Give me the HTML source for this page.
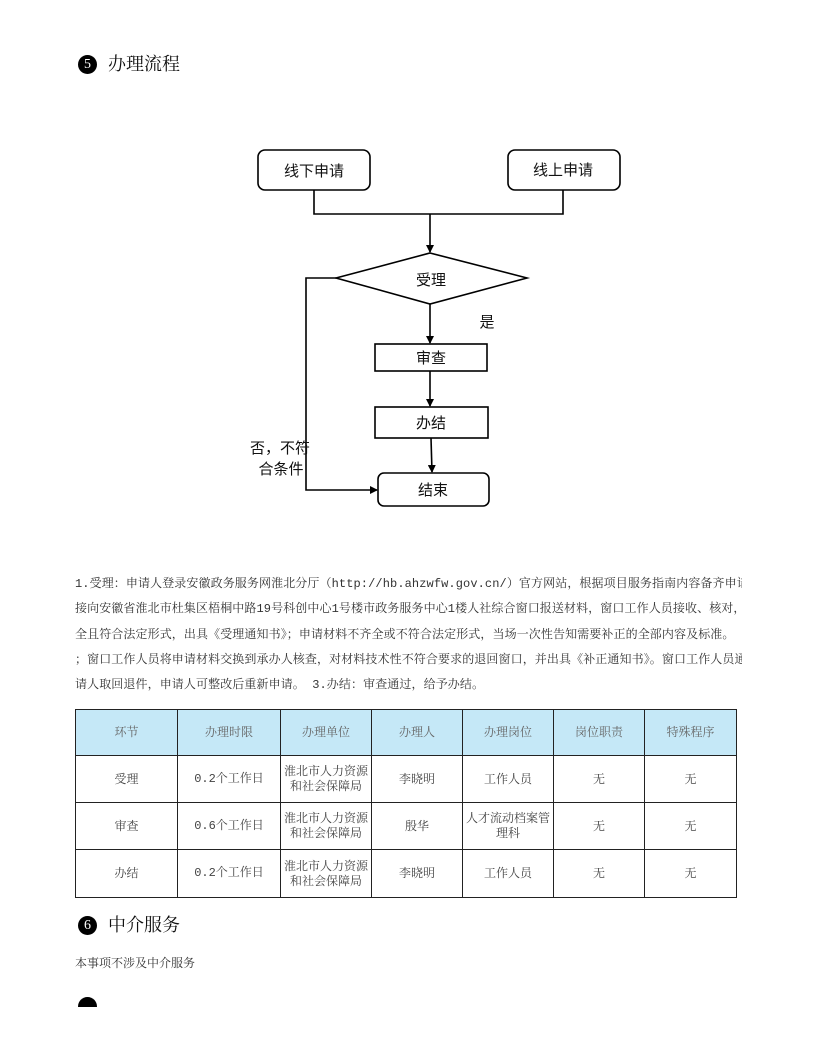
<!DOCTYPE html>
<html><head><meta charset="utf-8">
<style>
body{margin:0;background:#fff;}
.pg{position:relative;width:816px;height:1056px;overflow:hidden;font-family:"Liberation Serif","Noto Serif CJK SC",serif;color:#222;}
.abs{position:absolute;}
.circ{position:absolute;width:19px;height:19px;border-radius:50%;background:#000;color:#fff;font-size:14px;line-height:19px;text-align:center;font-family:"Liberation Serif",serif;}
.h{position:absolute;font-size:18px;line-height:20px;color:#111;}
.para{position:absolute;left:75px;width:667px;overflow:hidden;white-space:nowrap;font-size:12px;line-height:25.3px;color:#333;top:572px;font-family:"Liberation Mono","Noto Serif CJK SC",serif;letter-spacing:0.1px;}
table{position:absolute;left:75px;top:709px;border-collapse:collapse;font-size:12px;color:#444;}
td{border:1.5px solid #222;text-align:center;line-height:15px;padding:0 2px;}
tr.hd td{background:#c5e8f7;color:#666;}
.m{font-family:"Liberation Mono","Noto Serif CJK SC",serif;}
</style></head><body><div class="pg">
<div class="circ" style="left:78px;top:55px;">5</div>
<div class="h" style="left:108px;top:54px;">办理流程</div>

<svg class="abs" style="left:0;top:0" width="816" height="560">
<defs><marker id="a" markerWidth="8" markerHeight="8" refX="7" refY="4" orient="auto" markerUnits="userSpaceOnUse"><path d="M0,0 L8,4 L0,8 z" fill="#000"/></marker></defs>
<g fill="#fff" stroke="#000" stroke-width="1.6">
<rect x="258" y="150" width="112" height="40" rx="7"/>
<rect x="508" y="150" width="112" height="40" rx="7"/>
<polygon points="430,253 527,278 430,304 336,278"/>
<rect x="375" y="344" width="112" height="27"/>
<rect x="375" y="407" width="113" height="31"/>
<rect x="378" y="473" width="111" height="33" rx="6"/>
</g>
<g fill="none" stroke="#000" stroke-width="1.6">
<polyline points="314,190 314,214 563,214 563,190"/>
<line x1="430" y1="214" x2="430" y2="252" marker-end="url(#a)"/>
<line x1="430" y1="304" x2="430" y2="343" marker-end="url(#a)"/>
<line x1="430" y1="371" x2="430" y2="406" marker-end="url(#a)"/>
<line x1="431" y1="438" x2="432" y2="472" marker-end="url(#a)"/>
<polyline points="336,278 306,278 306,490 377,490" marker-end="url(#a)"/>
</g>
<g font-family="Liberation Sans,Noto Sans CJK SC,sans-serif" font-size="15" fill="#111" text-anchor="middle">
<text x="314" y="176">线下申请</text>
<text x="563" y="175">线上申请</text>
<text x="431" y="285">受理</text>
<text x="431" y="363">审查</text>
<text x="431" y="428">办结</text>
<text x="433" y="495">结束</text>
<text x="487" y="327">是</text>
<text x="280" y="453">否，不符</text>
<text x="281" y="474">合条件</text>
</g>
</svg>

<div class="para">1.受理：申请人登录安徽政务服务网淮北分厅（http://hb.ahzwfw.gov.cn/）官方网站，根据项目服务指南内容备齐申请材料后<br>接向安徽省淮北市杜集区梧桐中路19号科创中心1号楼市政务服务中心1楼人社综合窗口报送材料，窗口工作人员接收、核对，材<br>全且符合法定形式，出具《受理通知书》；申请材料不齐全或不符合法定形式，当场一次性告知需要补正的全部内容及标准。<br>；窗口工作人员将申请材料交换到承办人核查，对材料技术性不符合要求的退回窗口，并出具《补正通知书》。窗口工作人员通<br>请人取回退件，申请人可整改后重新申请。 3.办结：审查通过，给予办结。</div>

<table>
<colgroup><col style="width:102px"><col style="width:103px"><col style="width:91px"><col style="width:91px"><col style="width:91px"><col style="width:91px"><col style="width:92px"></colgroup>
<tr class="hd" style="height:46px"><td>环节</td><td>办理时限</td><td>办理单位</td><td>办理人</td><td>办理岗位</td><td>岗位职责</td><td>特殊程序</td></tr>
<tr style="height:47px"><td>受理</td><td class="m">0.2个工作日</td><td>淮北市人力资源<br>和社会保障局</td><td>李晓明</td><td>工作人员</td><td>无</td><td>无</td></tr>
<tr style="height:47px"><td>审查</td><td class="m">0.6个工作日</td><td>淮北市人力资源<br>和社会保障局</td><td>殷华</td><td>人才流动档案管<br>理科</td><td>无</td><td>无</td></tr>
<tr style="height:48px"><td>办结</td><td class="m">0.2个工作日</td><td>淮北市人力资源<br>和社会保障局</td><td>李晓明</td><td>工作人员</td><td>无</td><td>无</td></tr>
</table>

<div class="circ" style="left:78px;top:916px;">6</div>
<div class="h" style="left:108px;top:915px;">中介服务</div>
<div class="abs" style="left:75px;top:954px;font-size:12px;color:#333;">本事项不涉及中介服务</div>
<div class="abs" style="left:78px;top:997px;width:19px;height:19px;border-radius:50%;background:#000;"></div>
<div class="abs" style="left:70px;top:1007px;width:40px;height:30px;background:#fff;"></div>
</div></body></html>
